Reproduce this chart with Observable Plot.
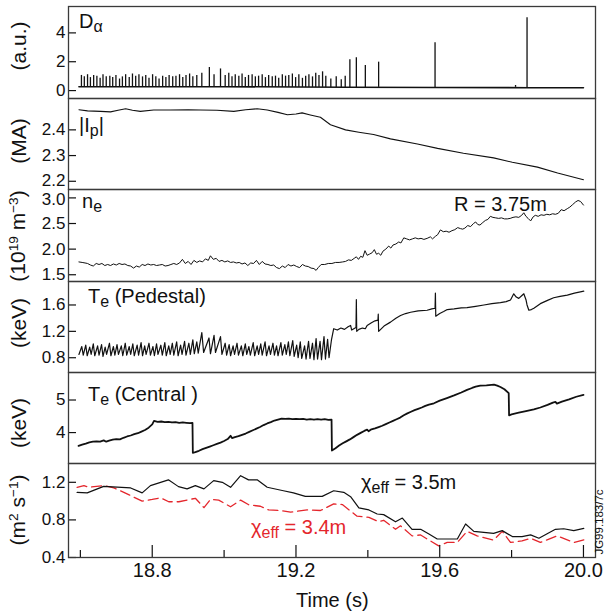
<!DOCTYPE html>
<html>
<head>
<meta charset="utf-8">
<script src="https://cdn.jsdelivr.net/npm/d3@7"></script>
<script src="https://cdn.jsdelivr.net/npm/@observablehq/plot@0.6"></script>
<style>
  html, body { margin: 0; padding: 0; background: #fff; }
  #wrap { position: relative; width: 607px; height: 611px; font-family: "Liberation Sans", Arial, Helvetica, sans-serif; color: #111; overflow: hidden; }
  #wrap svg { position: absolute; left: 0; }
  .lab { position: absolute; font-size: 20px; line-height: 1; white-space: nowrap; }
  .lab sub { font-size: 0.8em; position: relative; top: 0.28em; vertical-align: baseline; line-height: 0; }
  .ylab { position: absolute; font-size: 21px; line-height: 1; white-space: nowrap; transform: translate(-50%, -50%) rotate(-90deg); }
  .ylab sup { font-size: 0.65em; position: relative; top: -0.55em; vertical-align: baseline; line-height: 0; }
  .red { color: #e4262c; }
</style>
</head>
<body>
<div id="wrap"></div>
<script>
// ---------------- DATA ----------------
const xDomain = [18.567, 20.0335];
const xMajorTicks = [18.8, 19.2, 19.6, 20.0];
const xMinorTicks = [18.6, 19.0, 19.4, 19.8];

// D-alpha: spikes [time, height] and baseline
const daBaseLevel = 0.22;
const daSpikes = [
 [18.603,1.05],[18.611,0.95],[18.620,1.10],[18.628,0.90],[18.637,1.05],[18.646,1.00],[18.655,0.85],[18.663,1.10],[18.672,0.95],[18.682,1.00],
 [18.690,0.90],[18.699,1.05],[18.709,0.80],[18.717,0.95],[18.726,1.10],[18.736,0.90],[18.745,1.15],[18.754,1.00],[18.763,1.10],[18.773,0.95],
 [18.782,1.05],[18.791,0.85],[18.801,1.10],[18.810,0.95],[18.819,0.80],[18.829,1.00],[18.838,0.90],[18.847,1.05],[18.857,0.95],[18.866,1.00],
 [18.876,1.10],[18.885,0.90],[18.894,1.05],[18.904,1.15],[18.913,0.95],[18.924,1.05],[18.938,1.20],[18.959,1.60],[18.972,1.10],[18.990,1.50],
 [19.003,1.05],[19.013,1.20],[19.022,0.95],[19.031,1.10],[19.041,1.00],[19.050,1.15],[19.059,0.90],[19.068,1.05],[19.078,1.10],[19.087,0.95],
 [19.096,1.00],[19.106,1.10],[19.115,0.90],[19.124,1.05],[19.134,0.95],[19.143,1.00],[19.152,0.85],[19.162,1.10],[19.171,1.00],[19.180,1.05],
 [19.190,1.15],[19.199,0.90],[19.208,1.10],[19.218,0.85],[19.227,1.00],[19.236,1.10],[19.246,0.95],[19.255,1.20],[19.264,1.05],[19.274,1.30],
 [19.283,1.00],[19.297,0.80],[19.312,0.95],[19.326,0.75],[19.337,1.00],
 [19.350,2.13],[19.368,2.27],[19.393,1.74],[19.430,1.97],[19.587,3.31],[19.811,0.35],[19.843,5.05]
];
const daBaseline = [[18.596,0.27],[19.0,0.27],[19.34,0.23],[19.6,0.21],[19.85,0.20],[20.0,0.20]];

// Plasma current |Ip| (MA)
const ip = [
 [18.596,2.478],[18.62,2.474],[18.656,2.472],[18.684,2.470],[18.705,2.476],[18.726,2.482],[18.745,2.476],[18.767,2.472],
 [18.804,2.477],[18.85,2.477],[18.90,2.478],[18.934,2.477],[18.98,2.476],[19.027,2.472],[19.06,2.478],[19.092,2.482],
 [19.12,2.477],[19.15,2.468],[19.176,2.459],[19.20,2.462],[19.217,2.466],[19.24,2.458],[19.268,2.449],[19.296,2.42],
 [19.338,2.40],[19.375,2.391],[19.416,2.382],[19.463,2.365],[19.538,2.345],[19.594,2.328],[19.666,2.309],[19.750,2.291],
 [19.802,2.274],[19.872,2.255],[19.928,2.232],[20.0,2.206]
];

// Electron density n_e (1e19 m^-3) at R = 3.75 m
const ne = [
 [18.596,1.75],[18.605,1.74],[18.613,1.73],[18.62,1.72],[18.628,1.69],[18.636,1.67],[18.644,1.72],[18.652,1.70],[18.66,1.72],[18.668,1.68],
 [18.676,1.70],[18.684,1.68],[18.692,1.71],[18.70,1.69],[18.708,1.72],[18.716,1.70],[18.724,1.71],[18.732,1.68],[18.740,1.67],[18.748,1.63],
 [18.756,1.67],[18.764,1.65],[18.772,1.70],[18.78,1.68],[18.788,1.71],[18.796,1.69],[18.804,1.70],[18.812,1.68],[18.82,1.69],[18.828,1.70],
 [18.836,1.67],[18.844,1.68],[18.852,1.70],[18.86,1.72],[18.868,1.70],[18.876,1.73],[18.884,1.80],[18.892,1.72],[18.90,1.76],[18.908,1.70],
 [18.916,1.78],[18.924,1.74],[18.932,1.77],[18.94,1.75],[18.948,1.81],[18.956,1.78],[18.962,1.87],[18.970,1.80],[18.978,1.82],[18.986,1.76],
 [18.994,1.78],[19.002,1.75],[19.010,1.77],[19.018,1.74],[19.026,1.75],[19.034,1.73],[19.042,1.74],[19.050,1.71],[19.058,1.73],[19.066,1.68],
 [19.074,1.73],[19.082,1.72],[19.090,1.78],[19.098,1.70],[19.106,1.76],[19.114,1.71],[19.122,1.70],[19.130,1.68],[19.138,1.69],[19.146,1.64],
 [19.154,1.62],[19.162,1.67],[19.170,1.64],[19.178,1.70],[19.186,1.67],[19.194,1.69],[19.202,1.66],[19.210,1.64],[19.218,1.70],[19.226,1.67],
 [19.234,1.66],[19.242,1.63],[19.250,1.62],[19.256,1.585],[19.262,1.64],[19.270,1.70],[19.280,1.70],[19.290,1.72],[19.300,1.72],[19.310,1.74],
 [19.320,1.74],[19.330,1.75],[19.338,1.76],[19.346,1.79],[19.354,1.78],[19.362,1.82],[19.368,1.85],[19.374,1.80],[19.380,1.86],[19.386,1.84],
 [19.392,1.97],[19.398,1.88],[19.404,1.90],[19.412,1.93],[19.418,1.99],[19.424,1.90],[19.430,1.92],[19.436,1.88],[19.442,1.96],[19.450,2.00],
 [19.458,2.06],[19.464,2.02],[19.470,2.08],[19.478,2.10],[19.486,2.14],[19.492,2.12],[19.500,2.22],[19.508,2.20],[19.516,2.18],[19.524,2.20],
 [19.532,2.22],[19.540,2.20],[19.548,2.21],[19.556,2.19],[19.565,2.21],[19.574,2.24],[19.580,2.20],[19.588,2.25],[19.594,2.28],[19.602,2.375],
 [19.610,2.34],[19.618,2.35],[19.626,2.33],[19.634,2.36],[19.642,2.38],[19.650,2.42],[19.658,2.40],[19.664,2.39],[19.670,2.41],[19.678,2.46],
 [19.686,2.44],[19.694,2.50],[19.700,2.53],[19.706,2.48],[19.712,2.47],[19.720,2.52],[19.727,2.56],[19.734,2.58],[19.741,2.64],[19.748,2.62],
 [19.756,2.61],[19.764,2.60],[19.772,2.61],[19.780,2.59],[19.788,2.59],[19.796,2.60],[19.804,2.62],[19.812,2.63],[19.820,2.62],[19.828,2.66],
 [19.834,2.71],[19.840,2.64],[19.846,2.60],[19.853,2.55],[19.860,2.63],[19.866,2.66],[19.874,2.64],[19.882,2.67],[19.890,2.66],[19.898,2.68],
 [19.906,2.67],[19.914,2.69],[19.922,2.68],[19.930,2.70],[19.938,2.77],[19.946,2.75],[19.955,2.79],[19.962,2.82],[19.970,2.87],[19.978,2.92],
 [19.985,2.95],[19.992,2.93],[20.000,2.86]
];

// Pedestal Te (keV): ELM phase [peak time, value before crash, trough time, value after crash], then later points
const tePedStart = [18.596, 0.85];
const tePedElm = [
 [18.604,0.97,18.608,0.84],[18.615,0.99,18.619,0.83],[18.626,0.96,18.630,0.85],[18.636,1.01,18.640,0.83],[18.648,0.98,18.652,0.84],
 [18.659,1.00,18.663,0.82],[18.669,0.96,18.673,0.85],[18.681,1.02,18.685,0.83],[18.692,0.97,18.696,0.84],[18.702,1.00,18.706,0.85],
 [18.714,0.98,18.718,0.83],[18.725,1.02,18.729,0.84],[18.736,0.97,18.740,0.85],[18.746,1.01,18.750,0.83],[18.758,0.99,18.762,0.84],
 [18.769,1.03,18.773,0.83],[18.779,0.98,18.783,0.85],[18.791,1.02,18.795,0.84],[18.802,0.97,18.806,0.83],[18.812,1.01,18.816,0.85],
 [18.824,0.99,18.828,0.84],[18.835,1.03,18.839,0.83],[18.846,0.98,18.850,0.85],[18.856,1.02,18.860,0.84],[18.868,1.04,18.872,0.83],
 [18.879,0.99,18.883,0.85],[18.890,1.05,18.894,0.84],[18.902,1.02,18.906,0.85],[18.913,1.07,18.917,0.86],[18.924,1.04,18.928,0.87],
 [18.938,1.18,18.943,0.88],[18.958,1.10,18.962,0.86],[18.972,1.14,18.976,0.88],[18.990,1.12,18.994,0.85],[19.003,1.02,19.007,0.84],
 [19.014,1.00,19.018,0.83],[19.025,0.98,19.029,0.85],[19.036,1.02,19.040,0.84],[19.048,0.98,19.052,0.83],[19.059,1.01,19.063,0.85],
 [19.069,0.97,19.073,0.84],[19.081,1.03,19.085,0.83],[19.092,0.98,19.096,0.85],[19.102,1.01,19.106,0.84],[19.114,1.04,19.118,0.83],
 [19.125,0.98,19.129,0.85],[19.136,1.02,19.140,0.84],[19.146,0.98,19.150,0.83],[19.158,1.03,19.162,0.84],[19.169,1.00,19.173,0.85],
 [19.179,1.04,19.183,0.83],[19.191,1.06,19.195,0.82],[19.202,0.99,19.206,0.80],[19.212,1.04,19.216,0.79],[19.224,0.98,19.228,0.78],
 [19.235,1.05,19.239,0.79],[19.246,1.02,19.250,0.77],[19.256,1.09,19.260,0.78],[19.267,1.05,19.271,0.77],[19.278,1.12,19.282,0.78],
 [19.288,1.08,19.292,0.80]
];
const tePedLate = [
 [19.299,1.08],[19.305,1.24],[19.315,1.22],[19.325,1.25],[19.335,1.23],[19.345,1.27],[19.352,1.29],[19.355,1.22],[19.361,1.24],[19.367,1.26],
 [19.368,1.68],[19.369,1.20],[19.375,1.23],[19.385,1.25],[19.393,1.24],[19.398,1.29],[19.41,1.33],[19.42,1.36],[19.428,1.37],[19.429,1.46],
 [19.430,1.20],[19.445,1.28],[19.463,1.34],[19.478,1.40],[19.491,1.44],[19.505,1.47],[19.519,1.49],[19.54,1.51],[19.565,1.52],[19.578,1.54],
 [19.587,1.55],[19.588,1.78],[19.589,1.43],[19.600,1.47],[19.611,1.50],[19.621,1.53],[19.64,1.54],[19.66,1.555],[19.676,1.56],[19.70,1.58],
 [19.723,1.60],[19.745,1.62],[19.769,1.635],[19.785,1.65],[19.797,1.675],[19.806,1.77],[19.813,1.72],[19.820,1.70],[19.828,1.74],[19.834,1.77],
 [19.840,1.68],[19.843,1.60],[19.848,1.52],[19.855,1.53],[19.862,1.55],[19.880,1.62],[19.900,1.67],[19.917,1.71],[19.935,1.73],[19.955,1.75],
 [19.975,1.78],[20.001,1.81]
];

// Central Te (keV)
const teCen = [
 [18.595,3.59],[18.605,3.63],[18.615,3.66],[18.625,3.70],[18.635,3.72],[18.645,3.73],[18.655,3.72],[18.665,3.76],[18.672,3.72],[18.68,3.75],
 [18.69,3.78],[18.70,3.80],[18.71,3.79],[18.72,3.84],[18.73,3.88],[18.74,3.91],[18.75,3.95],[18.76,3.98],[18.77,4.03],[18.78,4.08],
 [18.79,4.15],[18.80,4.25],[18.805,4.36],[18.815,4.33],[18.825,4.34],[18.835,4.32],[18.845,4.33],[18.855,4.31],[18.865,4.32],[18.875,4.30],
 [18.885,4.31],[18.895,4.30],[18.905,4.29],[18.912,4.30],[18.913,3.38],[18.92,3.40],[18.93,3.44],[18.94,3.49],[18.95,3.53],[18.96,3.57],
 [18.97,3.61],[18.98,3.65],[18.99,3.69],[19.00,3.74],[19.01,3.80],[19.018,3.90],[19.022,3.83],[19.03,3.86],[19.04,3.89],[19.05,3.93],
 [19.06,3.97],[19.07,4.02],[19.08,4.07],[19.09,4.12],[19.10,4.17],[19.11,4.23],[19.12,4.28],[19.13,4.32],[19.14,4.37],[19.15,4.40],
 [19.16,4.43],[19.17,4.42],[19.18,4.43],[19.19,4.41],[19.20,4.42],[19.21,4.41],[19.22,4.42],[19.23,4.40],[19.24,4.41],[19.25,4.40],
 [19.26,4.41],[19.27,4.40],[19.28,4.41],[19.29,4.39],[19.299,4.40],[19.30,3.45],[19.31,3.52],[19.32,3.60],[19.33,3.67],[19.34,3.73],
 [19.35,3.79],[19.36,3.86],[19.37,3.93],[19.38,3.99],[19.39,4.05],[19.398,4.09],[19.402,4.04],[19.41,4.10],[19.42,4.13],[19.43,4.17],
 [19.44,4.21],[19.45,4.26],[19.46,4.31],[19.47,4.36],[19.48,4.41],[19.49,4.46],[19.50,4.53],[19.51,4.59],[19.52,4.64],[19.53,4.69],
 [19.54,4.73],[19.55,4.77],[19.56,4.82],[19.57,4.86],[19.584,4.90],[19.60,4.98],[19.62,5.06],[19.64,5.14],[19.66,5.23],[19.676,5.31],
 [19.69,5.37],[19.70,5.41],[19.713,5.44],[19.73,5.45],[19.751,5.47],[19.76,5.44],[19.769,5.40],[19.78,5.33],[19.792,5.21],[19.793,4.53],
 [19.80,4.56],[19.82,4.61],[19.84,4.66],[19.862,4.71],[19.88,4.77],[19.90,4.85],[19.915,4.92],[19.922,4.94],[19.926,4.89],[19.94,4.95],
 [19.96,5.02],[19.98,5.10],[20.00,5.16]
];

// chi_eff (m^2 s^-1) at 3.5 m (black) and 3.4 m (red dashed)
const chi35 = [
 [18.591,1.093],[18.619,1.087],[18.665,1.157],[18.740,1.14],[18.772,1.087],[18.795,1.165],[18.845,1.226],[18.873,1.154],[18.897,1.13],
 [18.920,1.165],[18.944,1.13],[18.971,1.218],[18.995,1.20],[19.018,1.147],[19.046,1.27],[19.068,1.226],[19.092,1.226],[19.120,1.147],
 [19.165,1.11],[19.193,1.087],[19.226,1.05],[19.273,1.05],[19.305,1.11],[19.333,1.093],[19.352,1.047],[19.375,0.927],[19.403,0.906],
 [19.426,0.863],[19.444,0.856],[19.477,0.78],[19.496,0.82],[19.523,0.70],[19.547,0.70],[19.570,0.65],[19.593,0.597],[19.649,0.597],
 [19.672,0.757],[19.695,0.678],[19.750,0.657],[19.774,0.686],[19.802,0.623],[19.829,0.623],[19.853,0.641],[19.876,0.605],[19.922,0.70],
 [19.945,0.706],[19.973,0.686],[20.001,0.71]
];
const chi34 = [
 [18.591,1.147],[18.610,1.165],[18.624,1.147],[18.665,1.165],[18.693,1.14],[18.721,1.093],[18.772,1.0],[18.80,1.018],[18.823,1.035],
 [18.846,0.993],[18.874,0.993],[18.920,1.03],[18.944,0.93],[18.962,1.018],[18.985,1.01],[19.018,0.94],[19.046,1.01],[19.069,0.96],
 [19.101,0.945],[19.124,0.906],[19.157,0.9],[19.185,0.882],[19.231,0.906],[19.268,0.9],[19.305,0.97],[19.329,0.963],[19.370,0.84],
 [19.403,0.827],[19.430,0.78],[19.444,0.796],[19.477,0.70],[19.491,0.737],[19.523,0.63],[19.547,0.64],[19.570,0.585],[19.597,0.524],
 [19.621,0.56],[19.649,0.56],[19.676,0.678],[19.704,0.63],[19.750,0.585],[19.774,0.678],[19.797,0.56],[19.829,0.576],[19.853,0.605],
 [19.880,0.56],[19.927,0.63],[19.973,0.56],[20.001,0.587]
];

// ---------------- DRAW ----------------
const FONT = '"Liberation Sans", Arial, Helvetica, sans-serif';
const W = 607, ML = 68, MR = 12;
const PW = W - ML - MR;
const INK = "#111";
const RED = "#e4262c";
const wrap = document.getElementById("wrap");

function panel({top, height, mt = 0, mb = 0, yDomain, yTicks, fmt, marks, bottomAxis = false, labelShift = {}}) {
  const ph = height - mt - mb;
  const extra = [];
  if (bottomAxis) {
    extra.push(
      Plot.tickX(xMajorTicks, {x: d => d, insetTop: ph - 12, stroke: INK, strokeWidth: 1.2}),
      Plot.tickX(xMinorTicks, {x: d => d, insetTop: ph - 7, stroke: INK, strokeWidth: 1.2}),
      Plot.axisX(xMajorTicks, {anchor: "bottom", tickSize: 0, tickPadding: 5, tickFormat: d3.format(".1f"), fontSize: 20, label: null})
    );
  }
  const yAxes = yTicks.map(v => Plot.axisY([v], {anchor: "left", tickSize: 0, tickPadding: 3, tickFormat: fmt, fontSize: 17, label: null, dy: labelShift[v] || 0}));
  const svg = Plot.plot({
    width: W, height, marginLeft: ML, marginRight: MR, marginTop: mt, marginBottom: mb,
    style: {background: "transparent", overflow: "visible", fontFamily: FONT, fontSize: "17px", color: INK},
    x: {domain: xDomain, axis: null},
    y: {domain: yDomain, axis: null},
    marks: [
      ...yAxes,
      Plot.tickY(yTicks, {y: d => d, insetRight: PW - 8, stroke: INK, strokeWidth: 1.2}),
      ...marks,
      ...extra,
      Plot.frame({stroke: "#3a3a3a", strokeWidth: 1.3})
    ]
  });
  svg.style.top = top + "px";
  wrap.appendChild(svg);
}

const f1 = d3.format(".1f");
const xy = {x: d => d[0], y: d => d[1]};

// Panel 1: D-alpha
panel({top: 0, height: 98, mt: 6, yDomain: [-0.55, 5.83], yTicks: [0, 2, 4], fmt: d3.format("d"),
  marks: [
    Plot.line(daBaseline, {...xy, stroke: INK, strokeWidth: 1.6}),
    Plot.ruleX(daSpikes, {x: d => d[0], y1: daBaseLevel, y2: d => d[1], stroke: INK, strokeWidth: 1.3})
  ]});

// Panel 2: Ip
panel({top: 98, height: 91, yDomain: [2.168, 2.522], yTicks: [2.2, 2.3, 2.4], fmt: f1, labelShift: {2.2: -1},
  marks: [Plot.line(ip, {...xy, stroke: INK, strokeWidth: 1.1})]});

// Panel 3: ne
panel({top: 189, height: 92, yDomain: [1.368, 3.164], yTicks: [1.5, 2.0, 2.5, 3.0], fmt: f1, labelShift: {3: 2},
  marks: [Plot.line(ne, {...xy, stroke: INK, strokeWidth: 1.0})]});

// Panel 4: Te pedestal
const tePed = [tePedStart, ...tePedElm.flatMap(([t, p, t2, tr]) => [[t, p], [t2, tr]]), ...tePedLate];
panel({top: 281, height: 91, yDomain: [0.576, 1.956], yTicks: [0.8, 1.2, 1.6], fmt: f1,
  marks: [Plot.line(tePed, {...xy, stroke: INK, strokeWidth: 1.2})]});

// Panel 5: Te central
panel({top: 372, height: 91, yDomain: [3.05, 5.845], yTicks: [4, 5], fmt: d3.format("d"),
  marks: [Plot.line(teCen, {...xy, stroke: INK, strokeWidth: 1.8})]});

// Panel 6: chi_eff
panel({top: 463, height: 148, mb: 54, yDomain: [0.4, 1.40], yTicks: [0.4, 0.8, 1.2], fmt: f1, bottomAxis: true,
  marks: [
    Plot.line(chi34, {...xy, stroke: RED, strokeWidth: 1.3, strokeDasharray: "10,5"}),
    Plot.line(chi35, {...xy, stroke: INK, strokeWidth: 1.2})
  ]});

// ---------------- TEXT ----------------
function addLab(html, left, top, cls = "lab") {
  const d = document.createElement("div");
  d.className = cls;
  d.innerHTML = html;
  d.style.left = left + "px";
  d.style.top = top + "px";
  wrap.appendChild(d);
}
addLab("D<sub>α</sub>", 79, 11);
addLab("|I<sub>p</sub>|", 79, 115);
addLab("n<sub>e</sub>", 82, 191);
addLab("T<sub>e</sub> (Pedestal)", 88, 286);
addLab("T<sub>e</sub> (Central )", 88, 384);
addLab("R = 3.75m", 454, 194);
addLab("χ<sub>eff</sub> = 3.5m", 361, 472);
addLab("χ<sub>eff</sub> = 3.4m", 251, 517, "lab red");
addLab("Time (s)", 296, 590);

addLab("(a.u.)", 18, 46, "ylab");
addLab("(MA)", 18, 141, "ylab");
addLab("(10<sup>19</sup> m<sup>−3</sup>)", 17, 236, "ylab");
addLab("(keV)", 18, 323, "ylab");
addLab("(keV)", 18, 423, "ylab");
addLab("(m<sup>2</sup> s<sup>−1</sup>)", 17, 510, "ylab");

const jg = document.createElement("div");
jg.className = "ylab";
jg.style.fontSize = "11.5px";
jg.textContent = "JG99.183/7c";
jg.style.left = "600px";
jg.style.top = "522px";
wrap.appendChild(jg);
</script>
</body>
</html>
